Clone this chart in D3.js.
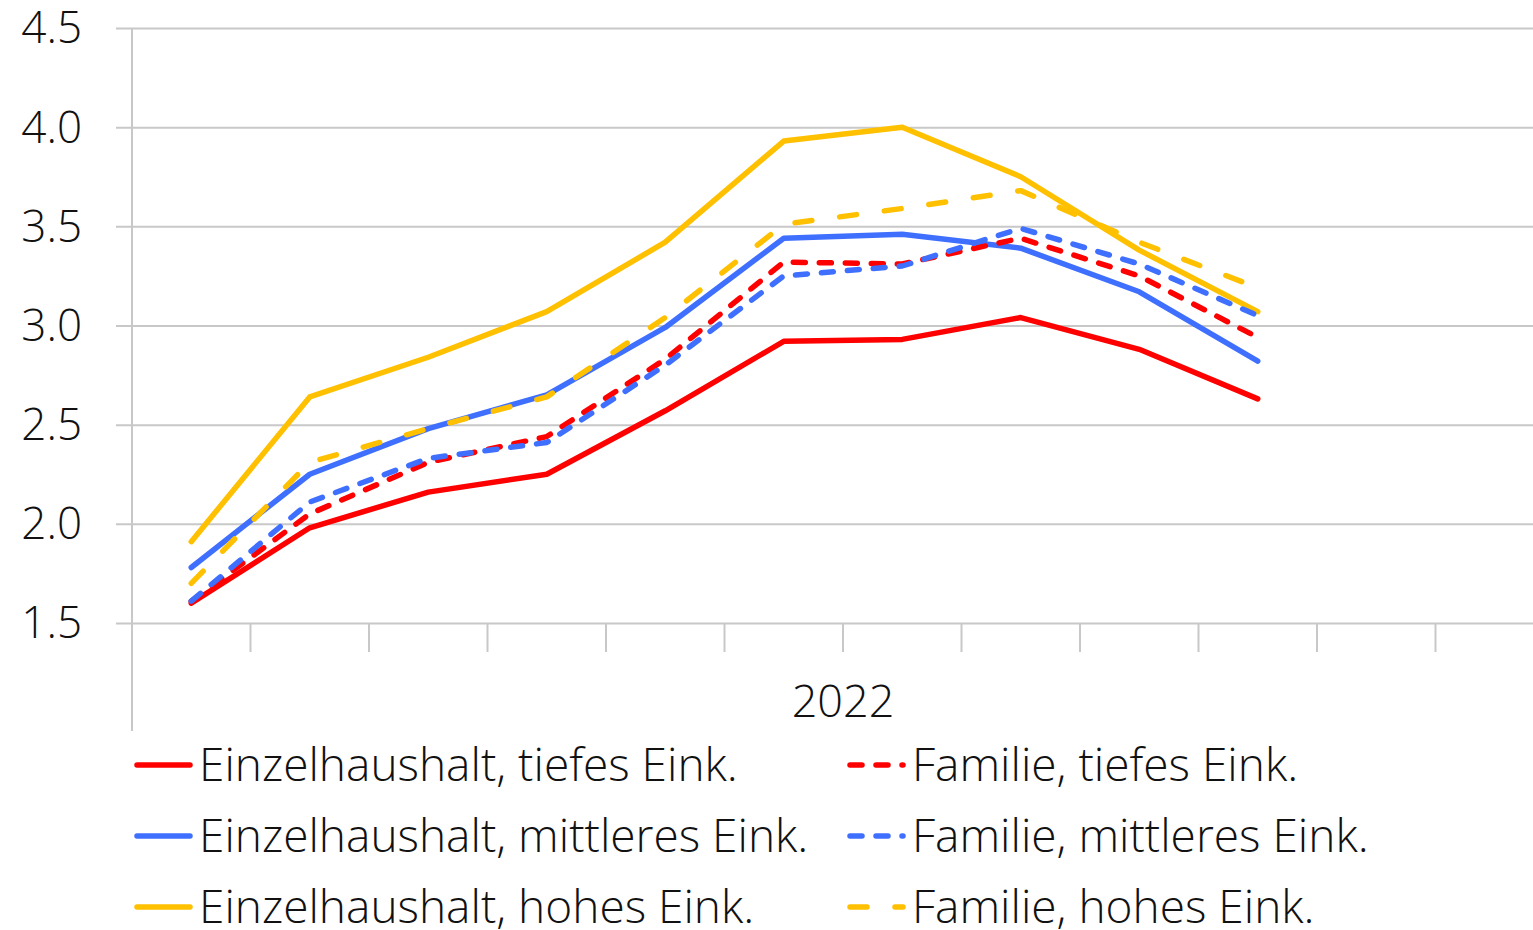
<!DOCTYPE html>
<html>
<head>
<meta charset="utf-8">
<script src="https://cdn.jsdelivr.net/npm/d3@7"></script>
<style>
  body { margin: 0; background: #fff; }
  text { font-family: "Open Sans", "Noto Sans", sans-serif; font-weight: 300; fill: #111; }
</style>
</head>
<body>
<script>
// Data (monthly values, 2022)
const months = ["Jan", "Feb", "Mär", "Apr", "Mai", "Jun", "Jul", "Aug", "Sep", "Okt", "Nov", "Dez"];
const yTicks = [1.5, 2.0, 2.5, 3.0, 3.5, 4.0, 4.5];
const yearLabel = "2022";

const einzelTief   = [1.60, 1.98, 2.16, 2.25, 2.57, 2.92, 2.93, 3.04, 2.88, 2.63];
const einzelMittel = [1.78, 2.25, 2.48, 2.65, 2.99, 3.44, 3.46, 3.39, 3.17, 2.82];
const einzelHoch   = [1.91, 2.64, 2.84, 3.07, 3.42, 3.93, 4.00, 3.75, 3.38, 3.07];
const familieTief   = [1.61, 2.05, 2.31, 2.44, 2.83, 3.32, 3.31, 3.44, 3.25, 2.94];
const familieMittel = [1.61, 2.11, 2.33, 2.41, 2.80, 3.25, 3.30, 3.49, 3.31, 3.05];
const familieHoch   = [1.70, 2.31, 2.48, 2.64, 3.04, 3.51, 3.59, 3.68, 3.42, 3.19];

const seriesNames = [
  "Einzelhaushalt, tiefes Eink.", "Einzelhaushalt, mittleres Eink.", "Einzelhaushalt, hohes Eink.",
  "Familie, tiefes Eink.", "Familie, mittleres Eink.", "Familie, hohes Eink."
];

const red = "#ff0000", blue = "#3f6fff", yellow = "#ffc000";
const series = [
  { name: seriesNames[0], values: einzelTief,    color: red,    dash: null },
  { name: seriesNames[1], values: einzelMittel,  color: blue,   dash: null },
  { name: seriesNames[2], values: einzelHoch,    color: yellow, dash: null },
  { name: seriesNames[3], values: familieTief,   color: red,    dash: "12,14" },
  { name: seriesNames[4], values: familieMittel, color: blue,   dash: "12,14" },
  { name: seriesNames[5], values: familieHoch,   color: yellow, dash: "17,28" }
];

const W = 1533, H = 930;
const plot = { left: 132, right: 1554, top: 28, bottom: 623 };

const svg = d3.select("body").append("svg")
  .attr("width", W)
  .attr("height", H);

// Scales
const x = d3.scaleBand()
  .domain(months)
  .range([plot.left, plot.right])
  .padding(0);

const y = d3.scaleLinear()
  .domain([1.5, 4.5])
  .range([plot.bottom, plot.top]);

// Horizontal gridlines
svg.append("g")
  .attr("transform", "translate(116,0)")
  .call(d3.axisRight(y).tickValues(yTicks).tickSize(W - 116).tickFormat(""))
  .call(g => g.select(".domain").remove())
  .call(g => g.selectAll("line").attr("stroke", "#c8c8c8").attr("stroke-width", 2));

// Y tick labels
svg.append("g")
  .attr("transform", "translate(82,0)")
  .call(d3.axisLeft(y).tickValues(yTicks).tickSize(0).tickPadding(0).tickFormat(d3.format(".1f")))
  .call(g => g.select(".domain").remove())
  .call(g => g.selectAll("text")
    .attr("font-size", "44px")
    .attr("dy", "0.34em")
    .attr("font-family", "'Open Sans', 'Noto Sans', sans-serif")
    .attr("font-weight", 300)
    .attr("fill", "#111"));

// Vertical axis line
svg.append("line")
  .attr("x1", plot.left).attr("x2", plot.left)
  .attr("y1", plot.top).attr("y2", 731)
  .attr("stroke", "#c8c8c8")
  .attr("stroke-width", 2);

// Category tick marks at band boundaries
svg.append("g")
  .attr("transform", "translate(" + (-x.bandwidth() / 2) + "," + plot.bottom + ")")
  .call(d3.axisBottom(x).tickSize(29).tickFormat(""))
  .call(g => g.select(".domain").remove())
  .call(g => g.selectAll("line").attr("stroke", "#c8c8c8").attr("stroke-width", 2));

// Year label
svg.append("text")
  .attr("x", (plot.left + plot.right) / 2)
  .attr("y", 717)
  .attr("text-anchor", "middle")
  .style("font-size", "45px")
  .text(yearLabel);

// Lines
const line = d3.line()
  .x((d, i) => x(months[i]) + x.bandwidth() / 2)
  .y(d => y(d));

svg.selectAll("path.series")
  .data(series).enter()
  .append("path")
    .attr("class", "series")
    .attr("d", d => line(d.values))
    .attr("fill", "none")
    .attr("stroke", d => d.color)
    .attr("stroke-width", 5.5)
    .attr("stroke-linecap", "round")
    .attr("stroke-linejoin", "round")
    .attr("stroke-dasharray", d => d.dash);

// Legend: two columns, three rows
const legend = svg.append("g");
const rowY = [765, 836, 907];
const colX = [137, 850];

series.forEach((s, i) => {
  const col = i < 3 ? 0 : 1;
  const row = i % 3;
  const g = legend.append("g")
    .attr("transform", "translate(" + colX[col] + "," + rowY[row] + ")");
  g.append("line")
    .attr("x1", 0).attr("x2", 53)
    .attr("y1", 0).attr("y2", 0)
    .attr("stroke", s.color)
    .attr("stroke-width", 5.5)
    .attr("stroke-linecap", "round")
    .attr("stroke-dasharray", s.dash);
  g.append("text")
    .attr("x", 62)
    .attr("y", 0)
    .attr("dy", "0.35em")
    .style("font-size", "46px")
    .text(s.name);
});
</script>
</body>
</html>
